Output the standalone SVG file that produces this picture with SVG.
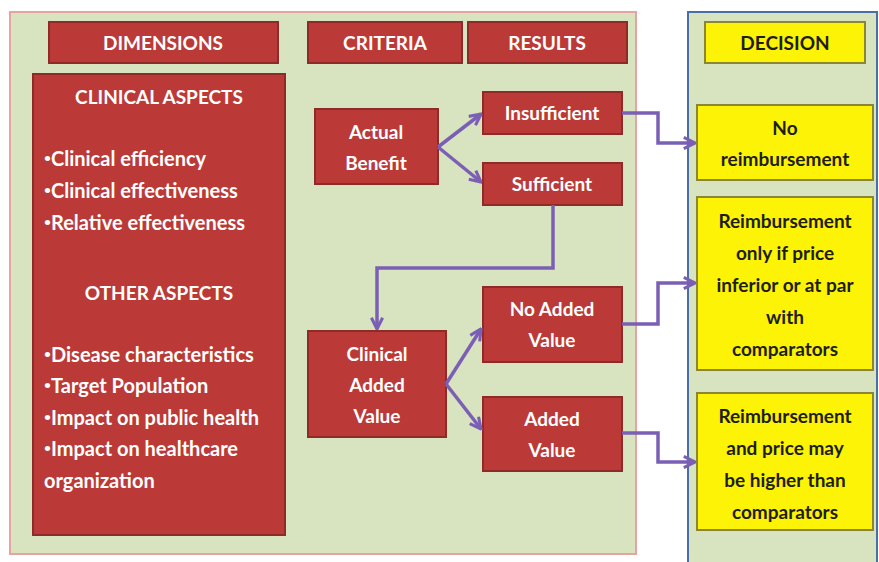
<svg xmlns="http://www.w3.org/2000/svg" width="879" height="562" viewBox="0 0 879 562">
  <defs>
    <marker id="arrow" viewBox="0 0 10 10" refX="9" refY="5" markerWidth="4" markerHeight="4" orient="auto" markerUnits="strokeWidth">
      <path d="M1,1 L9,5 L1,9" fill="none" stroke="#7b5fb5" stroke-width="2.2"/>
    </marker>
    <style>
      .panel { fill: #d8e4bf; }
      .red { fill: #bb3a37; stroke: #8e2a28; stroke-width: 2; }
      .yel { fill: #fcf306; stroke: #8a8636; stroke-width: 2; }
      .wt { fill: #ffffff; font-family: Lato, "Open Sans", sans-serif; font-weight: bold; font-size: 19px; }
      .list { font-size: 20px; }
      .dot { font-size: 12px; }
      .bk { fill: #1e1e10; font-family: Lato, "Open Sans", sans-serif; font-weight: bold; font-size: 19px; text-anchor: middle; }
      .mid { text-anchor: middle; }
      .link { fill: none; stroke: #7b5fb5; stroke-width: 3.5; marker-end: url(#arrow); }
    </style>
  </defs>

  <rect width="879" height="562" fill="#ffffff"/>

  <!-- evaluation panel -->
  <rect x="10" y="12" width="626" height="542" class="panel" stroke="#e6a3a0" stroke-width="2"/>
  <!-- decision panel -->
  <rect x="688" y="12" width="189" height="560" class="panel" stroke="#4b6ea6" stroke-width="2"/>

  <!-- column headers -->
  <g id="hdr-dimensions">
    <rect x="49" y="22" width="229" height="41" class="red"/>
    <text x="163" y="50" class="wt mid">DIMENSIONS</text>
  </g>
  <g id="hdr-criteria">
    <rect x="308" y="22" width="154" height="41" class="red"/>
    <text x="385" y="50" class="wt mid">CRITERIA</text>
  </g>
  <g id="hdr-results">
    <rect x="468" y="22" width="159" height="41" class="red"/>
    <text x="547" y="50" class="wt mid">RESULTS</text>
  </g>
  <g id="hdr-decision">
    <rect x="705" y="22" width="160" height="41" class="yel"/>
    <text x="785" y="50" class="bk">DECISION</text>
  </g>

  <!-- dimensions list -->
  <g id="dimensions">
    <rect x="33" y="74" width="252" height="461" class="red"/>
    <text x="159" y="104" class="wt mid">CLINICAL ASPECTS</text>
    <text x="44" y="166" class="wt list"><tspan class="dot" dy="-4">•</tspan><tspan dy="4">Clinical efficiency</tspan></text>
    <text x="44" y="198" class="wt list"><tspan class="dot" dy="-4">•</tspan><tspan dy="4">Clinical effectiveness</tspan></text>
    <text x="44" y="230" class="wt list"><tspan class="dot" dy="-4">•</tspan><tspan dy="4">Relative effectiveness</tspan></text>
    <text x="159" y="300" class="wt mid">OTHER ASPECTS</text>
    <text x="44" y="362" class="wt list"><tspan class="dot" dy="-4">•</tspan><tspan dy="4">Disease characteristics</tspan></text>
    <text x="44" y="393" class="wt list"><tspan class="dot" dy="-4">•</tspan><tspan dy="4">Target Population</tspan></text>
    <text x="44" y="425" class="wt list"><tspan class="dot" dy="-4">•</tspan><tspan dy="4">Impact on public health</tspan></text>
    <text x="44" y="456" class="wt list"><tspan class="dot" dy="-4">•</tspan><tspan dy="4">Impact on healthcare</tspan></text>
    <text x="44" y="488" class="wt list">organization</text>
  </g>

  <!-- criteria -->
  <g id="actual-benefit">
    <rect x="315" y="109" width="123" height="75" class="red"/>
    <text x="376" y="139" class="wt mid">Actual</text>
    <text x="376" y="170" class="wt mid">Benefit</text>
  </g>
  <g id="clinical-added-value">
    <rect x="308" y="331" width="138" height="106" class="red"/>
    <text x="377" y="361" class="wt mid">Clinical</text>
    <text x="377" y="392" class="wt mid">Added</text>
    <text x="377" y="423" class="wt mid">Value</text>
  </g>

  <!-- results -->
  <g id="insufficient">
    <rect x="483" y="92" width="139" height="42" class="red"/>
    <text x="552" y="120" class="wt mid">Insufficient</text>
  </g>
  <g id="sufficient">
    <rect x="483" y="163" width="139" height="42" class="red"/>
    <text x="552" y="191" class="wt mid">Sufficient</text>
  </g>
  <g id="no-added-value">
    <rect x="483" y="287" width="139" height="75" class="red"/>
    <text x="552" y="316" class="wt mid">No Added</text>
    <text x="552" y="347" class="wt mid">Value</text>
  </g>
  <g id="added-value">
    <rect x="483" y="397" width="139" height="74" class="red"/>
    <text x="552" y="426" class="wt mid">Added</text>
    <text x="552" y="457" class="wt mid">Value</text>
  </g>

  <!-- decisions -->
  <g id="no-reimbursement">
    <rect x="697" y="105" width="176" height="75" class="yel"/>
    <text x="785" y="135" class="bk">No</text>
    <text x="785" y="166" class="bk">reimbursement</text>
  </g>
  <g id="reimbursement-at-par">
    <rect x="697" y="197" width="176" height="173" class="yel"/>
    <text x="785" y="228" class="bk">Reimbursement</text>
    <text x="785" y="260" class="bk">only if price</text>
    <text x="785" y="292" class="bk">inferior or at par</text>
    <text x="785" y="324" class="bk">with</text>
    <text x="785" y="356" class="bk">comparators</text>
  </g>
  <g id="reimbursement-higher">
    <rect x="697" y="393" width="176" height="137" class="yel"/>
    <text x="785" y="423" class="bk">Reimbursement</text>
    <text x="785" y="455" class="bk">and price may</text>
    <text x="785" y="487" class="bk">be higher than</text>
    <text x="785" y="519" class="bk">comparators</text>
  </g>

  <!-- connectors -->
  <g id="connectors">
    <path class="link" d="M438,147 L481,114"/>
    <path class="link" d="M438,147 L481,182"/>
    <path class="link" d="M622,113 H658 V143 H695"/>
    <path class="link" d="M553,205 V268 H377 V329"/>
    <path class="link" d="M446,384 L481,329"/>
    <path class="link" d="M446,384 L481,429"/>
    <path class="link" d="M622,324 H658 V283 H695"/>
    <path class="link" d="M622,433 H658 V462 H695"/>
  </g>
</svg>
